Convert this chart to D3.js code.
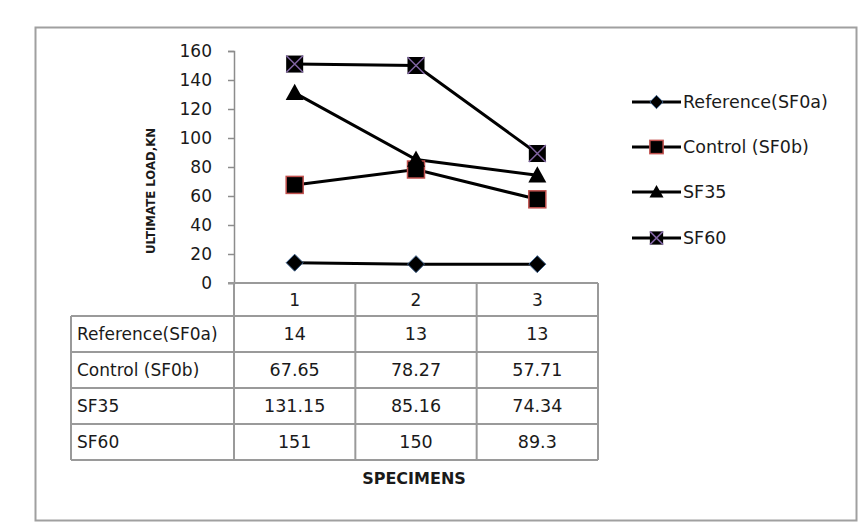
<!DOCTYPE html>
<html>
<head>
<meta charset="utf-8">
<script src="https://cdn.jsdelivr.net/npm/d3@7/dist/d3.min.js"></script>
<style>
  html, body { margin: 0; padding: 0; background: #fff; }
  svg { display: block; }
  text { font-family: "DejaVu Sans", sans-serif; fill: #1a1a1a; }
</style>
</head>
<body>
<svg id="chart" width="860" height="525"></svg>
<script>
// Specimens on the category axis
const specimens = ["1", "2", "3"];

// Ultimate load (kN) for each series
const referenceSF0a = [14, 13, 13];
const controlSF0b = [67.65, 78.27, 57.71];
const sf35 = [131.15, 85.16, 74.34];
const sf60 = [151, 150, 89.3];

const seriesNames = ["Reference(SF0a)", "Control (SF0b)", "SF35", "SF60"];
const yTicks = [0, 20, 40, 60, 80, 100, 120, 140, 160];

const series = [
  { name: seriesNames[0], values: referenceSF0a, marker: "diamond" },
  { name: seriesNames[1], values: controlSF0b, marker: "square" },
  { name: seriesNames[2], values: sf35, marker: "triangle" },
  { name: seriesNames[3], values: sf60, marker: "xsquare" }
];

const svg = d3.select("#chart");

// Outer chart frame
svg.append("rect")
  .attr("x", 35.5).attr("y", 27.5)
  .attr("width", 821).attr("height", 493)
  .attr("fill", "#fff").attr("stroke", "#a0a0a0").attr("stroke-width", 2);

const plotLeft = 234, plotRight = 598, plotTop = 51, plotBottom = 283;

const x = d3.scaleBand().domain(specimens).range([plotLeft, plotRight]).padding(0);
const y = d3.scaleLinear().domain([0, 160]).range([plotBottom, plotTop]);

// Y axis
const yAxis = d3.axisLeft(y).tickValues(yTicks).tickSize(6).tickPadding(16);
const yg = svg.append("g").attr("transform", `translate(${plotLeft},0)`).call(yAxis);
yg.select(".domain").attr("stroke", "#8c8c8c").attr("stroke-width", 1.5);
yg.selectAll(".tick line").attr("stroke", "#8c8c8c").attr("stroke-width", 1.5);
yg.selectAll(".tick text")
  .attr("font-size", 17).attr("font-family", "DejaVu Sans, sans-serif").attr("fill", "#1a1a1a");

// Y axis title
svg.append("text")
  .attr("transform", `translate(155,191) rotate(-90)`)
  .attr("text-anchor", "middle")
  .attr("font-size", 11.5).attr("font-weight", "bold")
  .attr("textLength", 126).attr("lengthAdjust", "spacingAndGlyphs")
  .text("ULTIMATE LOAD,KN");

// Data table below the plot
const tableLeft = 71;
const rowKeys = ["header"].concat(seriesNames);
const rowEdges = [283, 316, 352, 388, 424, 460];
const rowY = (i) => rowEdges[i];
const grid = svg.append("g").attr("stroke", "#9a9a9a").attr("stroke-width", 2).attr("fill", "none");

// horizontal rules
rowKeys.forEach((k, i) => {
  const yTop = rowY(i);
  const x0 = i === 0 ? plotLeft - 6 : tableLeft;
  grid.append("line").attr("x1", x0).attr("x2", plotRight).attr("y1", yTop).attr("y2", yTop);
});
grid.append("line").attr("x1", tableLeft).attr("x2", plotRight).attr("y1", rowY(5)).attr("y2", rowY(5));
// vertical rules
grid.append("line").attr("x1", tableLeft).attr("x2", tableLeft).attr("y1", rowY(1)).attr("y2", rowY(5));
specimens.forEach(s => {
  grid.append("line").attr("x1", x(s)).attr("x2", x(s)).attr("y1", rowY(0)).attr("y2", rowY(5));
});
grid.append("line").attr("x1", plotRight).attr("x2", plotRight).attr("y1", rowY(0)).attr("y2", rowY(5));

// header cells
specimens.forEach(s => {
  svg.append("text")
    .attr("x", x(s) + x.bandwidth() / 2).attr("y", (rowY(0) + rowY(1)) / 2 + 6)
    .attr("text-anchor", "middle").attr("font-size", 17).text(s);
});
// body cells
series.forEach((sr, r) => {
  const cy = (rowY(r + 1) + rowY(r + 2)) / 2 + 6;
  svg.append("text").attr("x", tableLeft + 6).attr("y", cy)
    .attr("font-size", 17).text(sr.name);
  sr.values.forEach((v, c) => {
    svg.append("text")
      .attr("x", x(specimens[c]) + x.bandwidth() / 2).attr("y", cy)
      .attr("text-anchor", "middle").attr("font-size", 17.5).text(String(v));
  });
});

// X axis title
svg.append("text")
  .attr("x", 414).attr("y", 484)
  .attr("text-anchor", "middle").attr("font-size", 16).attr("font-weight", "bold")
  .text("SPECIMENS");

// Marker drawing
function drawMarker(g, type, cx, cy, s) {
  if (type === "diamond") {
    const h = 8.5 * s;
    g.append("path")
      .attr("d", `M${cx},${cy - h}L${cx + h},${cy}L${cx},${cy + h}L${cx - h},${cy}Z`)
      .attr("fill", "#000").attr("stroke", "#3a5f8a").attr("stroke-width", 1);
  } else if (type === "square") {
    const h = 8.5 * s;
    g.append("rect").attr("x", cx - h).attr("y", cy - h).attr("width", 2 * h).attr("height", 2 * h)
      .attr("fill", "#000").attr("stroke", "#c0504d").attr("stroke-width", 1.5);
  } else if (type === "triangle") {
    const h = 9 * s;
    g.append("path")
      .attr("d", `M${cx},${cy - h}L${cx + h},${cy + h * 0.8}L${cx - h},${cy + h * 0.8}Z`)
      .attr("fill", "#000");
  } else if (type === "xsquare") {
    const h = 8.5 * s;
    g.append("rect").attr("x", cx - h).attr("y", cy - h).attr("width", 2 * h).attr("height", 2 * h)
      .attr("fill", "#000");
    g.append("path")
      .attr("d", `M${cx - h},${cy - h}L${cx + h},${cy + h}M${cx + h},${cy - h}L${cx - h},${cy + h}`)
      .attr("stroke", "#8064a2").attr("stroke-width", 1.5);
  }
}

// Series lines and markers
const line = d3.line()
  .x((d, i) => x(specimens[i]) + x.bandwidth() / 2)
  .y(d => y(d));

const plot = svg.append("g");
series.forEach(sr => {
  plot.append("path").datum(sr.values)
    .attr("d", line).attr("fill", "none").attr("stroke", "#000").attr("stroke-width", 3);
});
series.forEach(sr => {
  sr.values.forEach((v, i) => {
    drawMarker(plot, sr.marker, x(specimens[i]) + x.bandwidth() / 2, y(v), 1);
  });
});

// Legend
const legendY = [102, 147, 192, 238];
series.forEach((sr, i) => {
  const g = svg.append("g");
  g.append("line").attr("x1", 632).attr("x2", 681).attr("y1", legendY[i]).attr("y2", legendY[i])
    .attr("stroke", "#000").attr("stroke-width", 3);
  drawMarker(g, sr.marker, 656.5, legendY[i], 0.78);
  g.append("text").attr("x", 683).attr("y", legendY[i] + 6).attr("font-size", 17.5).text(sr.name);
});
</script>
</body>
</html>
